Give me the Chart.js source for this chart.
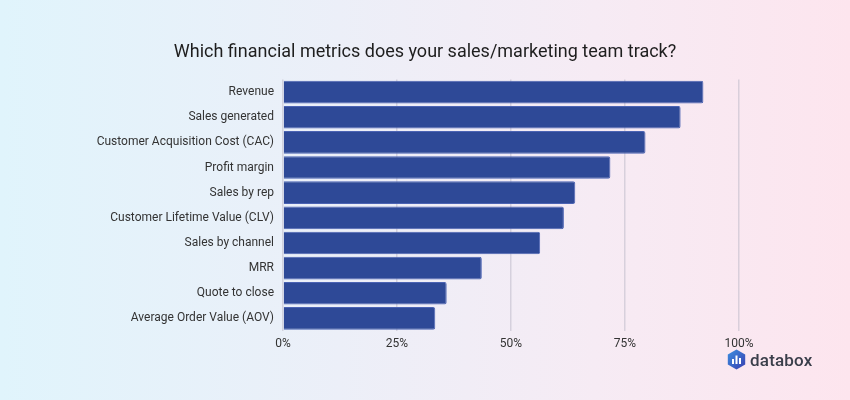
<!DOCTYPE html>
<html>
<head>
<meta charset="utf-8">
<script src="https://cdn.jsdelivr.net/npm/chart.js@4/dist/chart.umd.min.js"></script>
<style>
  html, body { margin: 0; padding: 0; }
  body { width: 850px; height: 400px; overflow: hidden; position: relative;
    background: linear-gradient(to right, #e0f4fc 0%, #eceff8 40%, #f6ebf4 70%, #fde5ee 100%);
    font-family: Roboto, "Noto Sans", sans-serif; }
  #wrap { position: absolute; left: 0; top: 0; width: 850px; height: 400px; }
  #title { position: absolute; left: 0; width: 850px; top: 39px; text-align: center;
    font-family: Roboto, sans-serif; font-size: 18px; line-height: 24px; color: #1e1e1e; }
  #logo { position: absolute; left: 727px; top: 349px; display: flex; align-items: center; }
  #logo span { font-family: Roboto, sans-serif; font-size: 17px; color: #3a3e4a; margin-left: 4px; letter-spacing: 0.2px; font-weight: 500; }
</style>
</head>
<body>
<div id="wrap"><canvas id="c" width="850" height="400"></canvas></div>
<div id="title"></div>
<div id="logo">
  <svg width="19" height="21" viewBox="0 0 19 21">
    <defs><linearGradient id="g" x1="0" y1="0" x2="1" y2="1">
      <stop offset="0" stop-color="#3b8fe0"/><stop offset="1" stop-color="#3a3fb0"/></linearGradient></defs>
    <path d="M9.5 0.5 L18.2 5.5 L18.2 15.5 L9.5 20.5 L0.8 15.5 L0.8 5.5 Z" fill="url(#g)"/>
    <rect x="5" y="10" width="2" height="5" fill="#fff"/>
    <rect x="8.5" y="6.5" width="2" height="8.5" fill="#fff"/>
    <rect x="12" y="9" width="2" height="6" fill="#fff"/>
  </svg>
  <span>databox</span>
</div>
<script>
const categories = [
  "Revenue",
  "Sales generated",
  "Customer Acquisition Cost (CAC)",
  "Profit margin",
  "Sales by rep",
  "Customer Lifetime Value (CLV)",
  "Sales by channel",
  "MRR",
  "Quote to close",
  "Average Order Value (AOV)"
];
const percentTracking = [92.2, 87.2, 79.5, 71.8, 64.1, 61.6, 56.4, 43.6, 35.9, 33.4];
const xTickValues = [0, 25, 50, 75, 100];
const chartTitle = "Which financial metrics does your sales/marketing team track?";

document.getElementById('title').textContent = chartTitle;

new Chart(document.getElementById('c'), {
  type: 'bar',
  data: {
    labels: categories,
    datasets: [{
      data: percentTracking,
      backgroundColor: '#2e4997',
      borderColor: '#4b63b3',
      borderWidth: 1,
      borderRadius: 2,
      borderSkipped: 'start',
      categoryPercentage: 0.9,
      barPercentage: 1.0
    }]
  },
  options: {
    indexAxis: 'y',
    responsive: false,
    animation: false,
    devicePixelRatio: 1,
    layout: { padding: { left: 0, right: 111, top: 79.5, bottom: 45 } },
    plugins: {
      legend: { display: false },
      tooltip: { enabled: false },
      title: { display: false }
    },
    scales: {
      x: {
        min: 0, max: 100,
        afterBuildTicks: (s) => { s.ticks = xTickValues.map(v => ({ value: v })); },
        afterFit: (s) => { s.height = 24; },
        border: { display: false },
        grid: { color: 'rgba(190,185,200,0.55)', lineWidth: 1.5, drawTicks: false },
        ticks: { color: '#333', font: { family: 'Roboto', size: 12 }, padding: 6,
          callback: (v) => v + '%' }
      },
      y: {
        afterFit: (s) => { s.width = 283; },
        border: { display: false },
        grid: { display: false, drawTicks: false },
        ticks: { color: '#333', font: { family: 'Roboto', size: 12 }, padding: 9 }
      }
    }
  }
});
</script>
</body>
</html>
